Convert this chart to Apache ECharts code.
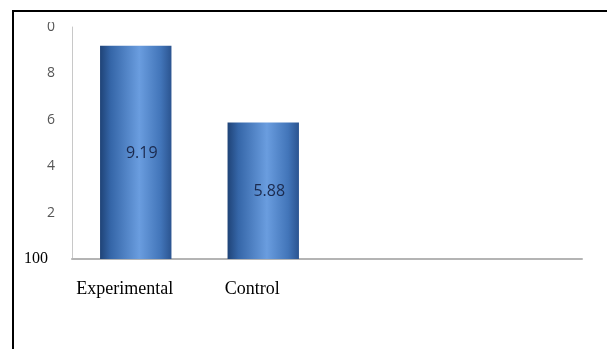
<!DOCTYPE html>
<html>
<head>
<meta charset="utf-8">
<script src="https://cdn.jsdelivr.net/npm/echarts@6/dist/echarts.min.js"></script>
<style>
  html, body { margin: 0; padding: 0; background: #fff; }
  #frame { position: absolute; left: 12px; top: 10px; width: 700px; height: 400px;
           border-left: 2px solid #000; border-top: 2px solid #000; }
  #chart { position: absolute; left: 0; top: 0; width: 607px; height: 349px; }
</style>
</head>
<body>
<div id="chart"></div>
<div id="frame"></div>
<script>
// categories (the two right-hand slots are empty in the original)
const categories = ['Experimental', 'Control', '', '']
const scores = [9.19, 5.88, null, null]
// tick labels as they appear on the picture (bottom one reads "100", top one is cut off)
const yTickValues = [0, 2, 4, 6, 8, 10]
const yTickLabels = ['100', '2', '4', '6', '8', '0']

const chart = echarts.init(document.getElementById('chart'))

const barFill = {
  type: 'linear', x: 0, y: 0, x2: 1, y2: 0,
  colorStops: [
    { offset: 0, color: '#1f4377' },
    { offset: 0.15, color: '#3566a8' },
    { offset: 0.55, color: '#6a9ddf' },
    { offset: 0.85, color: '#4275b9' },
    { offset: 1, color: '#2b5490' }
  ]
}

chart.setOption({
  animation: false,
  grid: { left: 72, right: 25, top: 27, bottom: 90 },
  xAxis: {
    type: 'category',
    data: categories,
    axisTick: { show: false },
    axisLine: { lineStyle: { color: '#b4b4b4', width: 2 } },
    axisLabel: {
      color: '#000',
      fontFamily: 'Liberation Serif',
      fontSize: 18,
      margin: 21,
      padding: [0, 22, 0, 0]
    }
  },
  yAxis: {
    type: 'value',
    min: 0, max: 10, interval: 2,
    axisLine: { show: true, lineStyle: { color: '#c8c8c8' } },
    axisTick: { show: false },
    splitLine: { show: false },
    axisLabel: {
      margin: 17,
      color: '#555',
      fontFamily: 'Open Sans',
      fontSize: 14,
      formatter: (v) => {
        const i = yTickValues.indexOf(v)
        const t = i >= 0 ? yTickLabels[i] : ''
        return v === 0 ? '{s|' + t + '}' : t
      },
      rich: {
        s: { fontFamily: 'Liberation Serif', fontSize: 16, color: '#000', padding: [0, 7, 0, 0] }
      }
    }
  },
  series: [{
    type: 'bar',
    data: scores,
    barWidth: '56%',
    itemStyle: { color: barFill },
    label: {
      show: true,
      position: 'inside',
      offset: [6, 1],
      color: '#1b2a4e',
      fontFamily: 'Open Sans',
      fontSize: 16
    }
  }],
  graphic: [{
    type: 'rect',
    z: 100,
    shape: { x: 30, y: 12, width: 40, height: 10 },
    style: { fill: '#fff' }
  }]
})
</script>
</body>
</html>
